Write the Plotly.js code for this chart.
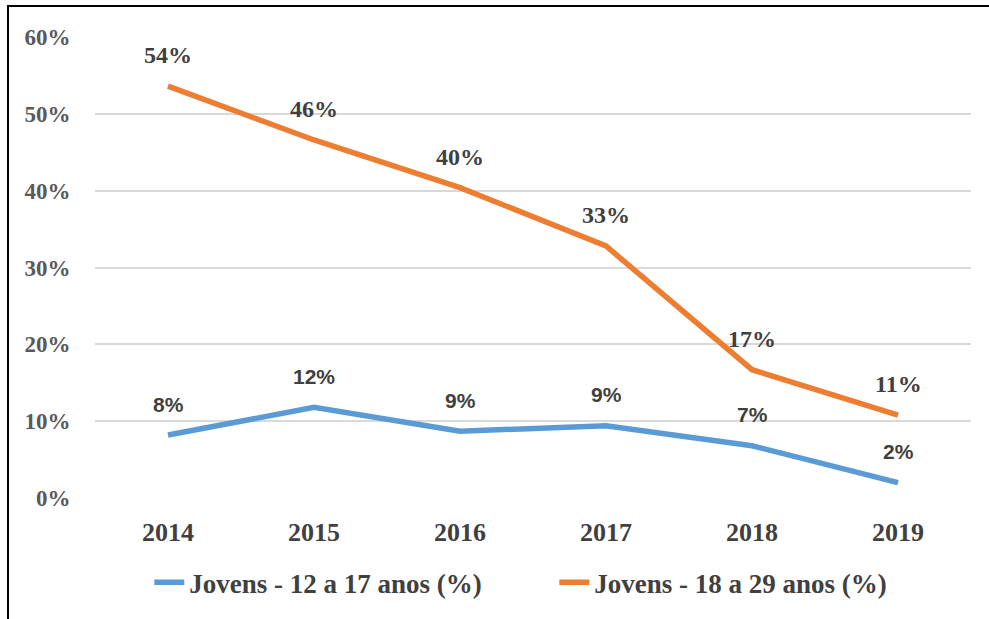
<!DOCTYPE html>
<html>
<head>
<meta charset="utf-8">
<script src="https://cdn.plot.ly/plotly-3.0.1.min.js"></script>
<style>
html,body{margin:0;padding:0;background:#fff;width:989px;height:619px;overflow:hidden;}
#frame{position:absolute;left:7px;top:5px;width:1100px;height:800px;border-left:2px solid #000;border-top:2px solid #000;}
#chart{position:absolute;left:0;top:0;width:989px;height:619px;}
</style>
</head>
<body>
<div id="frame"></div>
<div id="chart"></div>
<script>
const years = ['2014','2015','2016','2017','2018','2019'];
const jovens12a17 = [0.082, 0.118, 0.087, 0.094, 0.068, 0.020];
const jovens18a29 = [0.536, 0.466, 0.404, 0.328, 0.167, 0.108];
const labels12a17 = ['8%','12%','9%','9%','7%','2%'];
const labels18a29 = ['54%','46%','40%','33%','17%','11%'];
const seriesNames = ['Jovens - 12 a 17 anos (%)', 'Jovens - 18 a 29 anos (%)'];
const yTicks = [0, 0.1, 0.2, 0.3, 0.4, 0.5, 0.6];
const yTickText = ['0%','10%','20%','30%','40%','50%','60%'];

const blue = '#5B9BD5', orange = '#ED7D31';
const serif = 'Liberation Serif';
const sans = 'Liberation Sans';

const traces = [
  {x: years, y: jovens12a17, name: '<b>' + seriesNames[0] + '</b>', type: 'scatter', mode: 'lines',
   line: {color: blue, width: 5.5}, hoverinfo: 'skip'},
  {x: years, y: jovens18a29, name: '<b>' + seriesNames[1] + '</b>', type: 'scatter', mode: 'lines',
   line: {color: orange, width: 5.5}, hoverinfo: 'skip'}
];

const annotations = [];
for (let i = 0; i < years.length; i++) {
  annotations.push({xref: 'x', yref: 'y', x: i, y: jovens18a29[i], text: '<b>' + labels18a29[i] + '</b>', showarrow: false,
    yshift: 31, font: {family: serif, size: 24, color: '#404040'}});
  annotations.push({xref: 'x', yref: 'y', x: i, y: jovens12a17[i], text: '<b>' + labels12a17[i] + '</b>', showarrow: false,
    yshift: 31, font: {family: sans, size: 21, color: '#404040'}});
}

const layout = {
  width: 989, height: 619,
  paper_bgcolor: 'rgba(0,0,0,0)', plot_bgcolor: 'rgba(0,0,0,0)',
  margin: {l: 95, r: 18, t: 37, b: 121, autoexpand: false},
  showlegend: true,
  legend: {orientation: 'h', x: 0.062, xanchor: 'left', y: -0.184, yanchor: 'middle', entrywidth: 360, entrywidthmode: 'pixels',
    font: {family: serif, size: 27, color: '#404040'}, traceorder: 'normal'},
  xaxis: {type: 'category', range: [-0.5, 5.5], showgrid: false, zeroline: false, showline: false,
    ticks: 'outside', ticklen: 11, tickcolor: 'rgba(0,0,0,0)', tickfont: {family: serif, size: 26, color: '#404040'},
    tickprefix: '<b>', ticksuffix: '</b>'},
  yaxis: {range: [0, 0.6], tickmode: 'array', tickvals: yTicks, ticktext: yTickText.map(t => '<b>' + t + '</b>'),
    showgrid: true, gridcolor: '#D9D9D9', gridwidth: 2, zeroline: false, showline: false,
    ticks: 'outside', ticklen: 19, tickcolor: 'rgba(0,0,0,0)',
    tickfont: {family: serif, size: 23, color: '#595959'}},
  annotations: annotations
};

Plotly.newPlot('chart', traces, layout, {displayModeBar: false, staticPlot: true});
</script>
</body>
</html>
